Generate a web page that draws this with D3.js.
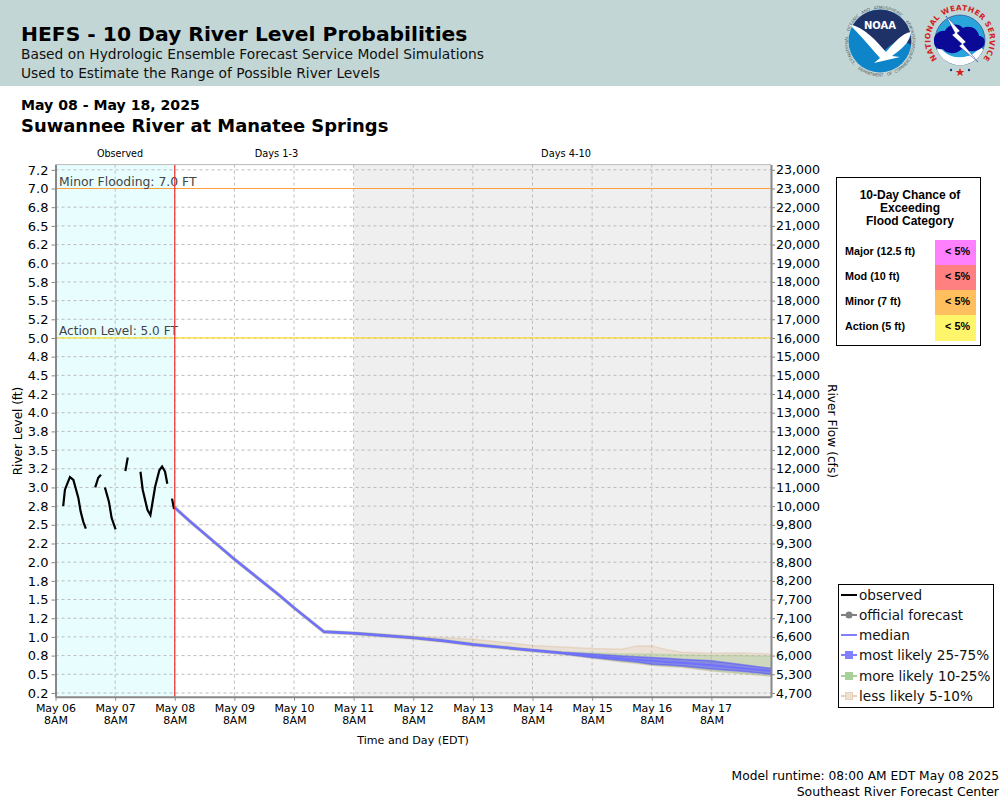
<!DOCTYPE html>
<html><head><meta charset="utf-8">
<script src="https://cdn.jsdelivr.net/npm/d3@7"></script>
<style>html,body{margin:0;padding:0;background:#fff}svg{display:block}text{font-family:"DejaVu Sans",sans-serif}</style>
</head><body><div id="c"></div>
<script>
// ---- data ----
const levelTicks=[7.25,7,6.75,6.5,6.25,6,5.75,5.5,5.25,5,4.75,4.5,4.25,4,3.75,3.5,3.25,3,2.75,2.5,2.25,2,1.75,1.5,1.25,1,0.75,0.5,0.25];
const levelLabels=["7.2","7.0","6.8","6.5","6.2","6.0","5.8","5.5","5.2","5.0","4.8","4.5","4.2","4.0","3.8","3.5","3.2","3.0","2.8","2.5","2.2","2.0","1.8","1.5","1.2","1.0","0.8","0.5","0.2"];
const flowLabels=["23,000","23,000","22,000","21,000","20,000","19,000","18,000","18,000","17,000","16,000","15,000","15,000","14,000","13,000","13,000","12,000","12,000","11,000","10,000","9,800","9,300","8,800","8,200","7,700","7,100","6,600","6,000","5,300","4,700"];
const dayHours=[0,24,48,72,96,120,144,168,192,216,240,264];
const dayLabels=["May 06","May 07","May 08","May 09","May 10","May 11","May 12","May 13","May 14","May 15","May 16","May 17"];
const observedSegments=[
 [[3.1,2.75],[3.8,2.97],[5.8,3.14],[7.2,3.10],[9.2,2.86],[10.1,2.68],[11.2,2.54],[12.2,2.45]],
 [[16.0,3.0],[17.2,3.13],[18.3,3.17]],
 [[19.9,3.0],[21.5,2.81],[22.6,2.59],[24.2,2.44]],
 [[28.1,3.22],[29.1,3.40]],
 [[34.2,3.21],[35.1,2.97],[37.0,2.70],[38.2,2.63],[40.1,3.01],[41.8,3.23],[42.9,3.28],[44.1,3.21],[45.0,3.05]],
 [[46.9,2.85],[47.7,2.71]]
];
const fcHours=[48,54,60,66,72,78,84,90,96,102,108,120,132,144,156,168,180,192,204,216,228,234,240,246,252,264,276,288];
const median=[2.73,2.55,2.38,2.21,2.04,1.88,1.72,1.56,1.39,1.23,1.07,1.05,1.02,0.99,0.95,0.90,0.86,0.82,0.785,0.745,0.71,0.695,0.68,0.665,0.655,0.62,0.58,0.545];
const blueUpper=[2.74,2.56,2.39,2.22,2.05,1.89,1.73,1.57,1.40,1.24,1.08,1.06,1.03,1.00,0.96,0.91,0.87,0.83,0.795,0.77,0.745,0.735,0.725,0.715,0.70,0.68,0.63,0.58];
const blueLower=[2.72,2.54,2.37,2.20,2.03,1.87,1.71,1.55,1.38,1.22,1.06,1.04,1.01,0.98,0.94,0.89,0.85,0.81,0.775,0.725,0.685,0.665,0.635,0.625,0.61,0.57,0.54,0.50];
const greenUpper=[2.745,2.565,2.395,2.225,2.055,1.895,1.735,1.575,1.405,1.245,1.085,1.065,1.035,1.005,0.97,0.92,0.88,0.835,0.80,0.785,0.77,0.77,0.77,0.765,0.76,0.75,0.75,0.74];
const greenLower=[2.715,2.535,2.365,2.195,2.025,1.865,1.705,1.545,1.375,1.215,1.055,1.035,1.005,0.975,0.935,0.885,0.845,0.805,0.77,0.72,0.67,0.65,0.625,0.61,0.60,0.55,0.515,0.48];
const tanUpper=[2.75,2.57,2.40,2.23,2.06,1.90,1.74,1.58,1.41,1.25,1.09,1.06,1.04,1.01,0.99,0.97,0.93,0.885,0.865,0.845,0.835,0.88,0.88,0.83,0.795,0.78,0.785,0.77];
const tanLower=[2.71,2.53,2.36,2.19,2.02,1.86,1.70,1.54,1.37,1.21,1.05,1.03,1.00,0.97,0.93,0.88,0.84,0.80,0.765,0.715,0.665,0.645,0.62,0.605,0.595,0.545,0.51,0.475];
const minorStage=7, actionStage=5;
const legendLabels=["observed","official forecast","median","most likely 25-75%","more likely 10-25%","less likely 5-10%"];
const categoryRows=["Major (12.5 ft)","Mod (10 ft)","Minor (7 ft)","Action (5 ft)"];
const categoryChance=["< 5%","< 5%","< 5%","< 5%"];
const categoryColors=["#ff80ff","#ff8080","#ffbf5f","#fff56b"];

// ---- layout ----
const svg=d3.select("#c").append("svg").attr("width",1000).attr("height",800);
const x=d3.scaleLinear().domain([0,288]).range([55.5,771]);
const y=d3.scaleLinear().domain([0.2,7.32]).range([696.7,164.6]);
const T=(sel,xx,yy,s,size,opt={})=>sel.append("text").attr("x",xx).attr("y",yy).text(s).attr("font-size",size)
  .attr("font-weight",opt.w||null).attr("text-anchor",opt.a||null).attr("fill",opt.f||"#000").style("font-family",opt.ff||null);

// header
svg.append("rect").attr("width",1000).attr("height",86).attr("fill","#c2d7d5");
T(svg,21,41,"HEFS - 10 Day River Level Probabilities",20.3,{w:"bold"});
T(svg,21,59,"Based on Hydrologic Ensemble Forecast Service Model Simulations",13.8,{f:"#111"});
T(svg,21,78,"Used to Estimate the Range of Possible River Levels",13.8,{f:"#111"});
T(svg,21,110,"May 08 - May 18, 2025",14.1,{w:"bold"});
T(svg,21,132,"Suwannee River at Manatee Springs",17.95,{w:"bold"});

// logos
(function(){
 const defs=svg.append("defs");
 const n=svg.append("g").attr("transform","translate(880,41)");
 defs.append("path").attr("id","noaaTop").attr("d","M-28,16 A32.2,32.2 0 1 1 28,16");
 defs.append("path").attr("id","noaaBot").attr("d","M-32,16 A36,36 0 0 0 32,16");
 n.append("circle").attr("r",31.5).attr("fill","#0d85c8");
 n.append("path").attr("d","M-27,-16 A31.5,31.5 0 0 1 27,-16 C31,-8 31.5,-2 31,4 C20,-4 12,2 4,10 C-2,4 -12,-10 -27,-16Z").attr("fill","#1f3268");
 n.append("path").attr("d","M-31,-17 C-14,-13 -4,0 6,11 C14,2 22,-8 31,-9 C30,0 24,6 16,12 L12,15 L20,16 L-6,22 L0,17 C-8,8 -18,-4 -31,-17Z").attr("fill","#fff");
 T(n,0,-12,"NOAA",10,{w:"bold",a:"middle",f:"#fff"});
 const ring=(words,href)=>{
  const total=words.join(" ").length;let pos=0;
  words.forEach(w=>{
   n.append("text").attr("font-size",4.1).attr("fill","#556").append("textPath").attr("href",href)
    .attr("startOffset",((pos+w.length/2)/total*100)+"%").attr("text-anchor","middle").text(w);
   pos+=w.length+1;
  });
 };
 ring(["NATIONAL","OCEANIC","AND","ATMOSPHERIC","ADMINISTRATION"],"#noaaTop");
 ring(["U.S.","DEPARTMENT","OF","COMMERCE"],"#noaaBot");

 const w=svg.append("g").attr("transform","translate(960,40)");
 defs.append("path").attr("id","nwsTop").attr("d","M-20,22 A29.7,29.7 0 1 1 20,22");
 w.append("circle").attr("r",25).attr("fill","#2aa5dc").attr("stroke","#1f3a80").attr("stroke-width",.6);
 w.append("path").attr("d","M-21,6 A25,25 0 0 0 21,6 L23,10 A25,25 0 0 1 -23,10Z").attr("fill","#fff");
 w.append("path").attr("d","M-19,14 C-8,24 10,24 20,12 C8,18 -8,20 -19,14Z").attr("fill","#fff");
 w.append("path").attr("d","M-26,2 C-27,-6 -20,-10 -15,-9 C-12,-16 -2,-18 3,-12 C9,-15 18,-12 19,-4 C26,-4 27,6 20,9 C14,13 6,11 2,9 C-4,15 -14,14 -17,9 C-22,10 -26,7 -26,2Z").attr("fill","#0a0a96");
 w.append("path").attr("d","M-14,-24 L0,-9 L-3,-7 L6,2 L3,4 L18,22 L-1,6 L2,4 L-8,-5 L-5,-7Z").attr("fill","#fff").attr("stroke","#0a0a96").attr("stroke-width",.4);
 w.append("text").attr("font-size",7.5).attr("font-weight","bold").attr("fill","#d42020").append("textPath").attr("href","#nwsTop").attr("startOffset","50%").attr("text-anchor","middle").attr("letter-spacing",.4).text("NATIONAL WEATHER SERVICE");
 w.append("path").attr("d","M0,28 l1.2,3 3,0 -2.4,2 1,3 -2.8,-1.8 -2.8,1.8 1,-3 -2.4,-2 3,0Z").attr("fill","#d42020");
 w.append("circle").attr("cx",-9).attr("cy",30).attr("r",1.2).attr("fill","#1f3a80");
 w.append("circle").attr("cx",9).attr("cy",30).attr("r",1.2).attr("fill","#1f3a80");
})();

// section labels
T(svg,120,157,"Observed",9.6,{a:"middle"});
T(svg,276.5,157,"Days 1-3",9.8,{a:"middle"});
T(svg,566,157,"Days 4-10",9.8,{a:"middle"});

// plot backgrounds
const py0=y(7.32),py1=y(0.2);
svg.append("rect").attr("x",x(0)).attr("y",py0).attr("width",x(48)-x(0)).attr("height",py1-py0).attr("fill","#e8fefe");
svg.append("rect").attr("x",x(120)).attr("y",py0).attr("width",x(288)-x(120)).attr("height",py1-py0).attr("fill","#efefef");

// grid
const grid=svg.append("g").attr("stroke","#bbb").attr("stroke-dasharray","3,3").attr("stroke-width",1);
grid.selectAll("line.h").data(levelTicks).join("line").attr("x1",x(0)).attr("x2",x(288)).attr("y1",d=>y(d)).attr("y2",d=>y(d));
grid.selectAll("line.v").data(dayHours).join("line").attr("x1",d=>x(d)).attr("x2",d=>x(d)).attr("y1",py0).attr("y2",py1);

// thresholds
svg.append("line").attr("x1",x(0)).attr("x2",x(288)).attr("y1",y(minorStage)).attr("y2",y(minorStage)).attr("stroke","#ffa040");
svg.append("line").attr("x1",x(0)).attr("x2",x(288)).attr("y1",y(actionStage)).attr("y2",y(actionStage)).attr("stroke","#ffd700");
T(svg,59,186,"Minor Flooding: "+minorStage+".0 FT",12.4,{f:"#444"});
T(svg,59,335,"Action Level: "+actionStage+".0 FT",12.1,{f:"#444"});

// bands
const band=(up,lo)=>d3.area().x((d,i)=>x(fcHours[i])).y0((d,i)=>y(lo[i])).y1((d,i)=>y(up[i]))(fcHours);
const edge=a=>d3.line().x((d,i)=>x(fcHours[i])).y((d,i)=>y(a[i]))(fcHours);
function drawBand(up,lo,fill,stroke,op,eo){
 svg.append("path").attr("d",band(up,lo)).attr("fill",fill).attr("fill-opacity",op);
 [up,lo].forEach(a=>svg.append("path").attr("d",edge(a)).attr("fill","none").attr("stroke",stroke).attr("stroke-opacity",eo).attr("stroke-width",1.5));
}
drawBand(tanUpper,tanLower,"#e0bc98","#d9b48f",.3,.35);
drawBand(greenUpper,greenLower,"#9cc890","#8fbf80",.35,.3);
drawBand(blueUpper,blueLower,"#4848ff","#4848ff",.55,.5);
svg.append("path").attr("d",edge(median)).attr("fill","none").attr("stroke","#7070ff").attr("stroke-width",2);

// observed
const obsLine=d3.line().x(d=>x(d[0])).y(d=>y(d[1]));
observedSegments.forEach(s=>svg.append("path").attr("d",obsLine(s)).attr("fill","none").attr("stroke","#000").attr("stroke-width",2.2));

// now line
svg.append("line").attr("x1",x(48)).attr("x2",x(48)).attr("y1",py0).attr("y2",py1).attr("stroke","#f03030").attr("stroke-width",1.2);

// axes
function style(g,fs){g.selectAll(".domain,.tick line").attr("stroke","#888");g.selectAll(".domain").attr("stroke-width",2);g.selectAll("text").attr("fill","#000").attr("font-size",fs).style("font-family",'"DejaVu Sans"');}
const la=svg.append("g").attr("transform",`translate(${x(0)},0)`).call(d3.axisLeft(y).tickValues(levelTicks).tickFormat((d,i)=>levelLabels[i]).tickSize(4).tickSizeOuter(0));
style(la,13);
const ra=svg.append("g").attr("transform",`translate(${x(288)},0)`).call(d3.axisRight(y).tickValues(levelTicks).tickFormat((d,i)=>flowLabels[i]).tickSize(4).tickSizeOuter(0).tickPadding(1));
style(ra,12.6);
const ba=svg.append("g").attr("transform",`translate(0,${py1})`).call(d3.axisBottom(x).tickValues(dayHours).tickFormat((d,i)=>dayLabels[i]).tickSize(4).tickSizeOuter(0));
style(ba,11);
ba.selectAll(".tick text").each(function(){const t=d3.select(this),s=t.text();t.text(null);t.append("tspan").attr("x",0).attr("dy","0.75em").text(s);t.append("tspan").attr("x",0).attr("dy","1.1em").text("8AM");});
svg.append("line").attr("x1",x(0)).attr("x2",x(288)).attr("y1",py0).attr("y2",py0).attr("stroke","#bbb");

// axis titles
T(svg,0,0,"River Level (ft)",12,{a:"middle"}).attr("transform","translate(22,431) rotate(-90)");
T(svg,0,0,"River Flow (cfs)",12.2,{a:"middle"}).attr("transform","translate(828,431) rotate(90)");
T(svg,413,744,"Time and Day (EDT)",11.1,{a:"middle"});
T(svg,999,780,"Model runtime: 08:00 AM EDT May 08 2025",12.25,{a:"end"});
T(svg,999,796,"Southeast River Forecast Center",12.5,{a:"end"});

// probability table
const tb=svg.append("g");
tb.append("rect").attr("x",836.5).attr("y",177.5).attr("width",144).attr("height",168).attr("fill","#fff").attr("stroke","#000");
const lib='"Liberation Sans",Arial,sans-serif';
["10-Day Chance of","Exceeding","Flood Category"].forEach((s,i)=>T(tb,910,199+i*13,s,12,{w:"bold",a:"middle",ff:lib}));
categoryRows.forEach((s,i)=>{
 tb.append("rect").attr("x",935).attr("y",240+i*25).attr("width",41).attr("height",i==3?26:25).attr("fill",categoryColors[i]);
 T(tb,845,255+i*25,s,10.8,{w:"bold",ff:lib});
 T(tb,970,255+i*25,categoryChance[i],10.8,{w:"bold",a:"end",ff:lib});
});

// legend
const lg=svg.append("g");
lg.append("rect").attr("x",838.5).attr("y",584.5).attr("width",155).attr("height",123).attr("fill","#fff").attr("stroke","#000");
const legendY=[595,615,635,655,676,696];
const legendStroke=["#000","#808080","#8080ff","#8080ff","#a8d098","#e8d0b8"];
const legendFill=[null,"#808080",null,"#8080ff","#a8d098","#f0e0d0"];
legendLabels.forEach((s,i)=>{
 lg.append("line").attr("x1",841).attr("x2",857).attr("y1",legendY[i]).attr("y2",legendY[i]).attr("stroke",legendStroke[i]).attr("stroke-width",2);
 if(i==1)lg.append("circle").attr("cx",849).attr("cy",legendY[i]).attr("r",3.5).attr("fill",legendFill[i]);
 if(i>2)lg.append("rect").attr("x",845.5).attr("y",legendY[i]-3.5).attr("width",7).attr("height",7).attr("fill",legendFill[i]).attr("stroke",legendStroke[i]);
 T(lg,859,legendY[i]+5,s,13.6,{f:"#111"});
});
</script></body></html>
